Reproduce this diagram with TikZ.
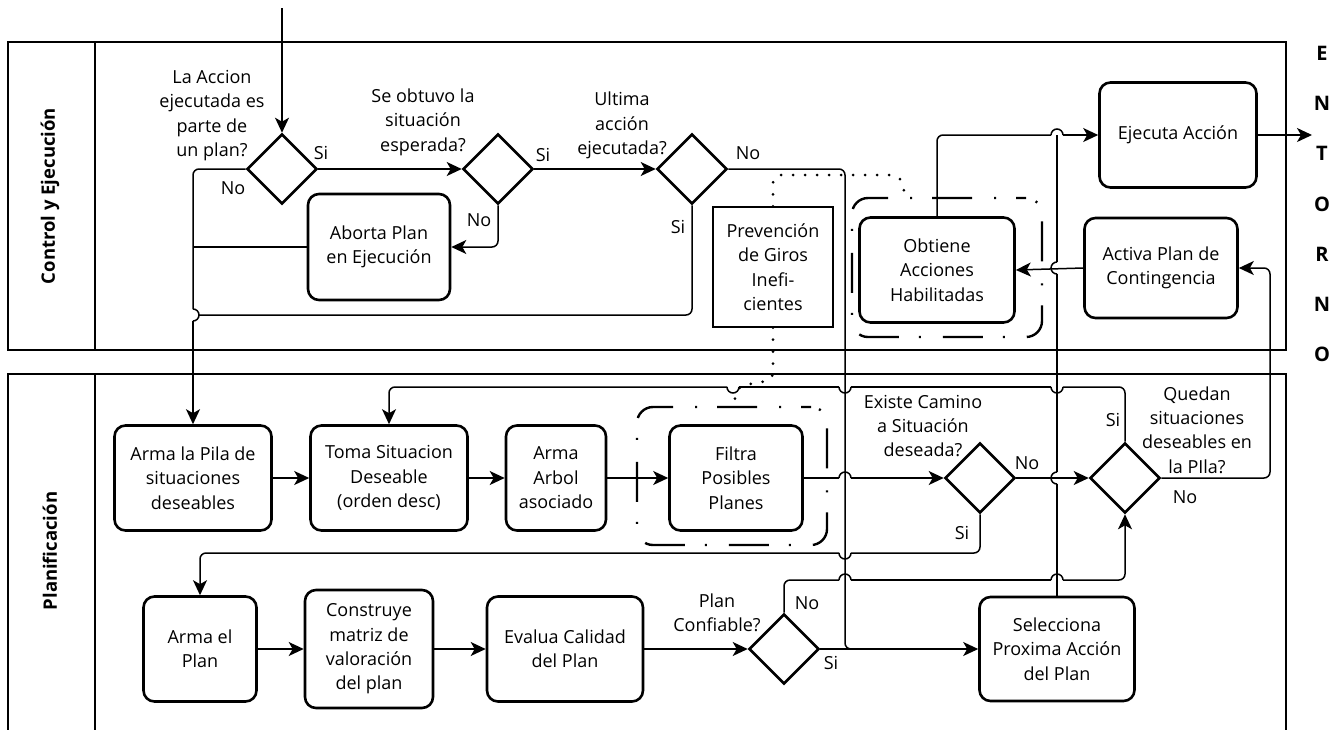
\documentclass[tikz,border=0pt]{standalone}
\usepackage{fontspec}
\setmainfont{Open Sans}
\usetikzlibrary{arrows.meta,shapes.geometric}

% line hops: small half circles where one connector passes another
\newcommand\hopU[2]{\draw[conn] (#1-6,#2) arc[start angle=180,end angle=360,radius=6];}
\newcommand\hopD[2]{\draw[conn] (#1-6,#2) arc[start angle=180,end angle=0,radius=6];}
\newcommand\hopL[2]{\draw[conn] (#1,#2-6) arc[start angle=270,end angle=90,radius=6];}
\newcommand\hopR[2]{\draw[conn] (#1,#2-6) arc[start angle=-90,end angle=90,radius=6];}

\begin{document}
\begin{tikzpicture}[x=1pt,y=-1pt,
  font=\fontsize{18}{24.4}\selectfont,
  conn/.style={line width=1.5pt, rounded corners=6pt},
  arr/.style={conn, -{Stealth[length=15pt,width=14pt,inset=4pt]}},
  task/.style={draw, line width=2.6pt, rounded corners=11pt, align=center, inner sep=0pt},
  gate/.style={draw, diamond, line width=2.6pt, minimum width=70pt, minimum height=70pt, inner sep=0pt},
  note/.style={draw, line width=1.4pt, align=center, inner sep=0pt},
  grp/.style={draw, line width=2.4pt, rounded corners=16pt, dash pattern=on 40pt off 20pt on 2pt off 22pt, dash phase=30pt},
  dotline/.style={line width=3pt, line cap=round, dash pattern=on 0pt off 12pt, rounded corners=8pt},
  pool/.style={line width=1.8pt},
  txt/.style={align=center, inner sep=0pt},
  lane/.style={font=\fontsize{18.5}{22}\selectfont\bfseries, rotate=90, inner sep=0pt},
]
\useasboundingbox (0,0) rectangle (1344,729);
\clip (0,0) rectangle (1344,729);

% pools and lanes
\draw[pool] (8,42) rectangle (1286,350);
\draw[pool] (95,42) -- (95,350);
\draw[pool] (8,740) -- (8,374) -- (1286,374) -- (1286,740);
\draw[pool] (95,374) -- (95,740);
\node[lane] (lanectl) at (50,196) {Control y Ejecución};
\node[lane] (laneplan) at (50,551) {Planificación};
\node[txt, font=\fontsize{20}{50.3}\selectfont\bfseries] (entorno) at (1322,204) {E\\N\\T\\O\\R\\N\\O};

% control and execution
\coordinate (in) at (282,8);
\coordinate (out) at (1312,135);
\node[gate] (d1) at (282,169) {};
\node[gate] (d2) at (498,169) {};
\node[gate] (d3) at (692,169) {};
\node[task, minimum width=142pt, minimum height=106pt] (aborta) at (379,247) {Aborta Plan\\en Ejecución};
\node[task, minimum width=157pt, minimum height=105pt] (ejecuta) at (1178,135) {Ejecuta Acción};
\node[task, minimum width=155pt, minimum height=105pt] (obtiene) at (937,270) {Obtiene\\Acciones\\Habilitadas};
\node[task, minimum width=153pt, minimum height=100pt] (activa) at (1161,268) {Activa Plan de\\Contingencia};
\node[note, minimum width=120pt, minimum height=120pt] (prev) at (773,267) {Prevención\\de Giros\\Inefi-\\cientes};
\node[grp, minimum width=190pt, minimum height=139pt] (gobt) at (947,267.5) {};

\node[txt] (q1) at (212,115.5) {La Accion\\ejecutada es\\parte de\\un plan?};
\node[txt] (q2) at (423,122) {Se obtuvo la\\situación\\esperada?};
\node[txt] (q3) at (622,125.5) {Ultima\\acción\\ejecutada?};
\node[txt] (s1) at (321,153) {Si};
\node[txt] (n1) at (233,188) {No};
\node[txt] (s2) at (543,155) {Si};
\node[txt] (n2) at (479,220) {No};
\node[txt] (s3) at (678,227) {Si};
\node[txt] (n3) at (748,153) {No};

% planning
\node[task, minimum width=157pt, minimum height=105pt] (pila) at (193,478) {Arma la Pila de\\situaciones\\deseables};
\node[task, minimum width=157pt, minimum height=105pt] (toma) at (389,478) {Toma Situacion\\Deseable\\(orden desc)};
\node[task, minimum width=100pt, minimum height=105pt] (arbol) at (556,478) {Arma\\Arbol\\asociado};
\node[task, minimum width=133pt, minimum height=105pt] (filtra) at (736,478) {Filtra\\Posibles\\Planes};
\node[grp, minimum width=190pt, minimum height=138pt] (gfil) at (732,476) {};
\node[gate] (dexist) at (980,478) {};
\node[gate] (dqued) at (1125,478) {};
\node[task, minimum width=113pt, minimum height=105pt] (armaplan) at (200,649) {Arma el\\Plan};
\node[task, minimum width=128pt, minimum height=118pt] (construye) at (369,649) {Construye\\matriz de\\valoración\\del plan};
\node[task, minimum width=156pt, minimum height=105pt] (evalua) at (565,649) {Evalua Calidad\\del Plan};
\node[gate] (dconf) at (784,649) {};
\node[task, minimum width=155pt, minimum height=104pt] (selecciona) at (1057,649) {Selecciona\\Proxima Acción\\del Plan};

\node[txt] (q4) at (923,426) {Existe Camino\\a Situación\\deseada?};
\node[txt] (q5) at (1197,430) {Quedan\\situaciones\\deseables en\\la PIla?};
\node[txt] (q6) at (717,613) {Plan\\Confiable?};
\node[txt] (n4) at (1027,463) {No};
\node[txt] (s4) at (962,533) {Si};
\node[txt] (s5) at (1113,420) {Si};
\node[txt] (n5) at (1185,497) {No};
\node[txt] (n6) at (807,603) {No};
\node[txt] (s6) at (831,663) {Si};

% control flow: control lane
\draw[arr] (in) -- (d1.north);
\draw[arr] (d1.east) -- (d2.west);
\draw[arr] (d2.east) -- (d3.west);
\draw[arr] (d2.south) |- (aborta.east);
\draw[conn] (aborta.west) -- (193,247);
\draw[conn] (d1.west) -| (193,309);
\hopR{193}{315}
\draw[arr] (193,321) -- (pila.north);
\draw[conn] (d3.south) |- (199,315);
\draw[conn] (d3.east) -| (845,649) -- (860,649);

\draw[conn] (obtiene.north) |- (1051,135);
\hopU{1057}{135}
\draw[arr] (1063,135) -- (ejecuta.west);
\draw[arr] (ejecuta.east) -- (out);
\draw[arr] (activa.west) -- (obtiene.east);

\draw[conn] (selecciona.north) -- (1057,484);
\hopL{1057}{478}
\draw[conn] (1057,472) -- (1057,274);
\hopL{1057}{268}
\draw[conn] (1057,262) -- (1057,135);

\draw[arr] (dqued.east) -- (1270,478) -- (1270,268) -- (activa.east);

% control flow: planning lane
\draw[conn] (dqued.north) |- (1063,387);
\hopD{1057}{387}
\draw[conn] (1051,387) -- (851,387);
\hopD{845}{387}
\draw[conn] (839,387) -- (739,387);
\hopD{733}{387}
\draw[arr] (727,387) -| (toma.north);

\draw[arr] (pila.east) -- (toma.west);
\draw[arr] (toma.east) -- (arbol.west);
\draw[arr] (arbol.east) -- (filtra.west);
\draw[conn] (filtra.east) -- (839,478);
\hopU{845}{478}
\draw[arr] (851,478) -- (dexist.west);
\draw[arr] (dexist.east) -- (dqued.west);

\draw[conn] (dexist.south) |- (851,553);
\hopD{845}{553}
\draw[arr] (839,553) -| (armaplan.north);

\draw[arr] (armaplan.east) -- (construye.west);
\draw[arr] (construye.east) -- (evalua.west);
\draw[arr] (evalua.east) -- (dconf.west);
\draw[arr] (dconf.east) -- (selecciona.west);
\draw[conn] (dconf.north) |- (839,580);
\hopU{845}{580}
\draw[conn] (851,580) -- (1051,580);
\hopU{1057}{580}
\draw[arr] (1063,580) -| (dqued.south);

% annotation associations
\draw[dotline] (prev.north) -- (773,175) -- (900,175) -- (906,198);
\draw[dotline] (prev.south) -- (773,380) -- (738,386) -- (733,407);
\end{tikzpicture}
\end{document}
